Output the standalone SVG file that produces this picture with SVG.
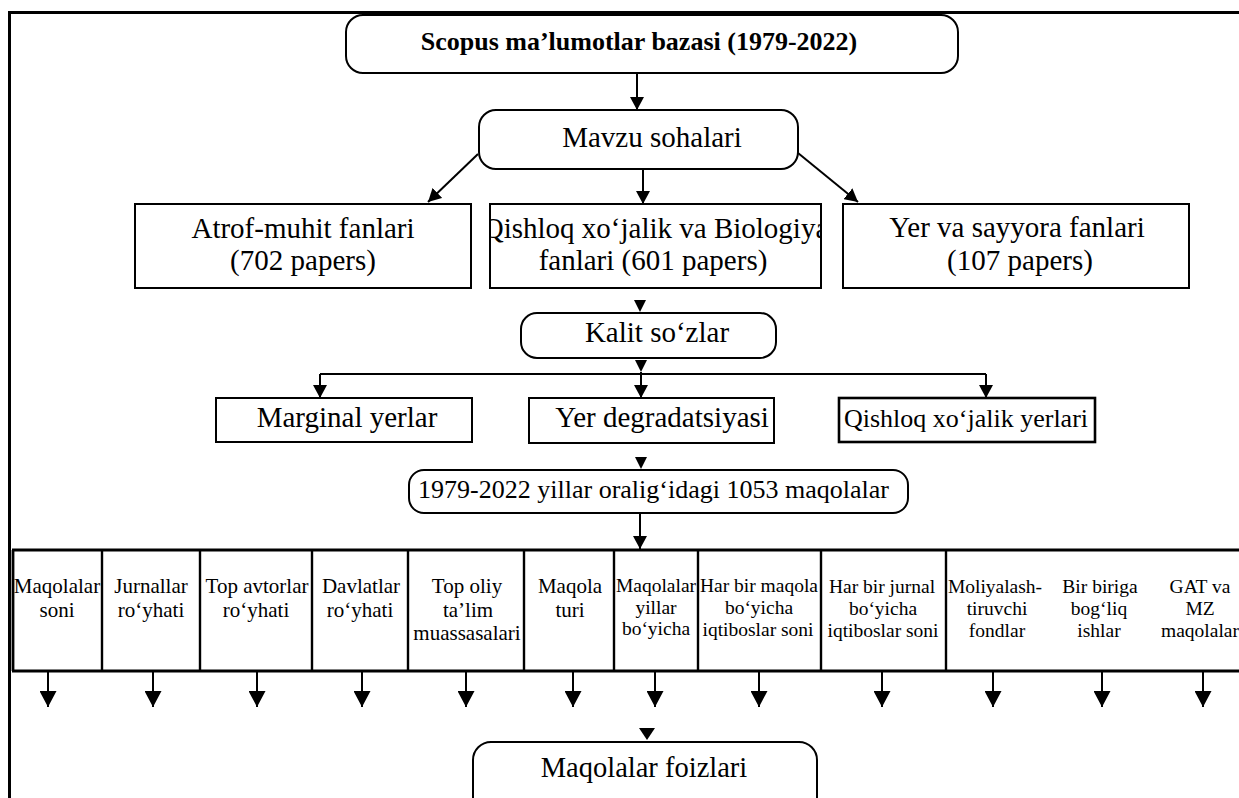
<svg xmlns="http://www.w3.org/2000/svg" width="1239" height="798" viewBox="0 0 1239 798">
<style>
  text { font-family: "Liberation Serif", "Times New Roman", serif; fill: #000; text-anchor: middle; }
  .b { font-weight: bold; font-size: 26px; }
  .t29 { font-size: 29px; }
  .t26 { font-size: 26px; }
  .t28 { font-size: 28.5px; }
  .c1 { font-size: 21px; }
  .c2 { font-size: 19.5px; }
  .box { fill: #fff; stroke: #000; stroke-width: 2; }
  .boxT { fill: #fff; stroke: #000; stroke-width: 2.6; }
  .ln { fill: none; stroke: #000; stroke-width: 2; }
  .tbl { fill: none; stroke: #000; stroke-width: 2.8; }
  .div { fill: none; stroke: #000; stroke-width: 2.4; }
  .frame { fill: none; stroke: #000; stroke-width: 3; }
  .head { fill: #000; stroke: none; }
</style>
<defs>
  <marker id="ah" markerUnits="userSpaceOnUse" markerWidth="14" markerHeight="14" refX="13" refY="7" orient="auto" viewBox="0 0 14 14">
    <path d="M0,0 L13,7 L0,14 z" fill="#000"/>
  </marker>
  <marker id="ahL" markerUnits="userSpaceOnUse" markerWidth="16" markerHeight="17" refX="16" refY="8.5" orient="auto" viewBox="0 0 16 17">
    <path d="M0,0 L16,8.5 L0,17 z" fill="#000"/>
  </marker>
  <clipPath id="clipQ"><rect x="491" y="205" width="329" height="82"/></clipPath>
</defs>
<rect x="0" y="0" width="1239" height="798" fill="#fff"/>

<!-- outer frame -->
<path class="frame" d="M9.5,798 L9.5,12.5 L1239,12.5"/>

<g id="connectors">
  <line class="ln" x1="637" y1="73" x2="637" y2="110" marker-end="url(#ah)"/>
  <line class="ln" x1="478" y1="154" x2="428" y2="202" marker-end="url(#ah)"/>
  <line class="ln" x1="643" y1="169" x2="643" y2="204" marker-end="url(#ah)"/>
  <line class="ln" x1="798" y1="153" x2="858" y2="202" marker-end="url(#ah)"/>
  <path class="head" d="M634,300 L646,300 L640,312 z"/>
  <path class="head" d="M635,360 L647,360 L641,372 z"/>
  <path class="ln" d="M320,374 L986,374"/>
  <line class="ln" x1="320" y1="374" x2="320" y2="398" marker-end="url(#ah)"/>
  <line class="ln" x1="641" y1="372" x2="641" y2="398" marker-end="url(#ah)"/>
  <line class="ln" x1="986" y1="374" x2="986" y2="398" marker-end="url(#ah)"/>
  <path class="head" d="M635,457 L647,457 L641,469 z"/>
  <line class="ln" x1="640" y1="513" x2="640" y2="549" marker-end="url(#ah)"/>
  <g id="table-arrows">
    <line class="ln" x1="48" y1="671" x2="48" y2="707" marker-end="url(#ahL)"/>
    <line class="ln" x1="153" y1="671" x2="153" y2="707" marker-end="url(#ahL)"/>
    <line class="ln" x1="257" y1="671" x2="257" y2="707" marker-end="url(#ahL)"/>
    <line class="ln" x1="362" y1="671" x2="362" y2="707" marker-end="url(#ahL)"/>
    <line class="ln" x1="466" y1="671" x2="466" y2="707" marker-end="url(#ahL)"/>
    <line class="ln" x1="573" y1="671" x2="573" y2="707" marker-end="url(#ahL)"/>
    <line class="ln" x1="655" y1="671" x2="655" y2="707" marker-end="url(#ahL)"/>
    <line class="ln" x1="759" y1="671" x2="759" y2="707" marker-end="url(#ahL)"/>
    <line class="ln" x1="882" y1="671" x2="882" y2="707" marker-end="url(#ahL)"/>
    <line class="ln" x1="993" y1="671" x2="993" y2="707" marker-end="url(#ahL)"/>
    <line class="ln" x1="1102" y1="671" x2="1102" y2="707" marker-end="url(#ahL)"/>
    <line class="ln" x1="1203" y1="671" x2="1203" y2="707" marker-end="url(#ahL)"/>
  </g>
  <path class="head" d="M639,728 L655,728 L647,740 z"/>
</g>

<g id="scopus">
  <rect class="box" x="346" y="15" width="612" height="58" rx="17" ry="17"/>
  <text class="b" x="639" y="50">Scopus ma’lumotlar bazasi (1979-2022)</text>
</g>

<g id="mavzu">
  <rect class="box" x="479" y="110" width="319" height="59" rx="17" ry="17"/>
  <text class="t29" x="652" y="147">Mavzu sohalari</text>
</g>

<g id="atrof">
  <rect class="box" x="135" y="204" width="336" height="84"/>
  <text class="t29" x="303" y="238">Atrof-muhit fanlari</text>
  <text class="t29" x="303" y="270">(702 papers)</text>
</g>

<g id="qishloq-bio">
  <rect class="box" x="490" y="204" width="331" height="84"/>
  <g clip-path="url(#clipQ)">
    <text class="t29" x="655.5" y="238">Qishloq xo‘jalik va Biologiya</text>
  </g>
  <text class="t29" x="653" y="270">fanlari (601 papers)</text>
</g>

<g id="yer-sayyora">
  <rect class="box" x="843" y="204" width="346" height="84"/>
  <text class="t29" x="1017" y="237">Yer va sayyora fanlari</text>
  <text class="t29" x="1020" y="270">(107 papers)</text>
</g>

<g id="kalit">
  <rect class="box" x="521" y="313" width="255" height="45" rx="16" ry="16"/>
  <text class="t29" x="657" y="342">Kalit so‘zlar</text>
</g>

<g id="marginal">
  <rect class="box" x="216" y="398" width="256" height="44"/>
  <text class="t29" x="347" y="427">Marginal yerlar</text>
</g>

<g id="degradatsiya">
  <rect class="box" x="529" y="398" width="245" height="45"/>
  <text class="t29" x="662" y="427">Yer degradatsiyasi</text>
</g>

<g id="qishloq-yerlari">
  <rect class="boxT" x="839" y="398" width="256" height="44"/>
  <text class="t26" x="966" y="427">Qishloq xo‘jalik yerlari</text>
</g>

<g id="maqolalar-1053">
  <rect class="box" x="409" y="470" width="499" height="43" rx="15" ry="15"/>
  <text class="t26" x="653.5" y="498">1979-2022 yillar oralig‘idagi 1053 maqolalar</text>
</g>

<g id="table">
  <path class="tbl" d="M12,550 L1239,550 M12,671 L1239,671 M13,550 L13,671"/>
  <path class="div" d="M102,550 V671 M200,550 V671 M312,550 V671 M408,550 V671 M524,550 V671 M614,550 V671 M698,550 V671 M821,550 V671 M946,550 V671"/>
  <g id="col-maqolalar-soni">
    <text class="c1" x="57" y="593">Maqolalar</text>
    <text class="c1" x="57" y="617">soni</text>
  </g>
  <g id="col-jurnallar">
    <text class="c1" x="151" y="593">Jurnallar</text>
    <text class="c1" x="151" y="617">ro‘yhati</text>
  </g>
  <g id="col-avtorlar">
    <text class="c1" x="257" y="593">Top avtorlar</text>
    <text class="c1" x="256" y="617">ro‘yhati</text>
  </g>
  <g id="col-davlatlar">
    <text class="c1" x="361" y="593">Davlatlar</text>
    <text class="c1" x="360" y="617">ro‘yhati</text>
  </g>
  <g id="col-oliy">
    <text class="c1" x="467" y="593">Top oliy</text>
    <text class="c1" x="468" y="617">ta’lim</text>
    <text class="c1" x="467" y="640">muassasalari</text>
  </g>
  <g id="col-turi">
    <text class="c1" x="570" y="593">Maqola</text>
    <text class="c1" x="570" y="617">turi</text>
  </g>
  <g id="col-yillar">
    <text class="c2" x="656" y="592">Maqolalar</text>
    <text class="c2" x="656" y="614">yillar</text>
    <text class="c2" x="656" y="635">bo‘yicha</text>
  </g>
  <g id="col-har-maqola">
    <text class="c2" x="759" y="592">Har bir maqola</text>
    <text class="c2" x="759" y="614">bo‘yicha</text>
    <text class="c2" x="758" y="636">iqtiboslar soni</text>
  </g>
  <g id="col-har-jurnal">
    <text class="c2" x="882" y="593">Har bir jurnal</text>
    <text class="c2" x="883" y="615">bo‘yicha</text>
    <text class="c2" x="883" y="637">iqtiboslar soni</text>
  </g>
  <g id="col-moliya">
    <text class="c2" x="995" y="593">Moliyalash-</text>
    <text class="c2" x="997" y="615">tiruvchi</text>
    <text class="c2" x="997" y="637">fondlar</text>
  </g>
  <g id="col-bir-biriga">
    <text class="c2" x="1100" y="593">Bir biriga</text>
    <text class="c2" x="1099" y="615">bog‘liq</text>
    <text class="c2" x="1099" y="637">ishlar</text>
  </g>
  <g id="col-gat">
    <text class="c2" x="1200" y="593">GAT va</text>
    <text class="c2" x="1200" y="615">MZ</text>
    <text class="c2" x="1200" y="637">maqolalar</text>
  </g>
</g>

<g id="foizlari">
  <rect class="box" x="473" y="742" width="344" height="80" rx="18" ry="18"/>
  <text class="t28" x="644" y="777">Maqolalar foizlari</text>
</g>
</svg>
